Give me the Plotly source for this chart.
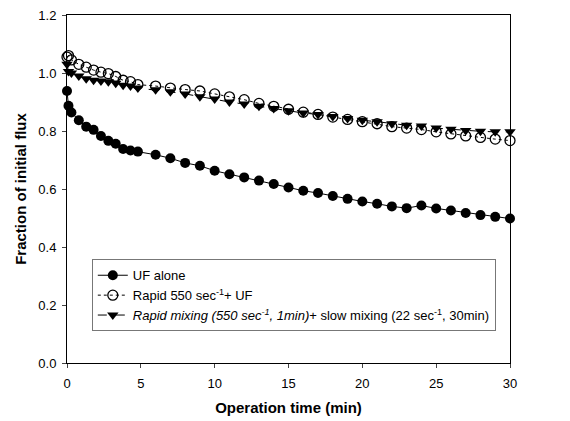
import plotly.graph_objects as go

time = [0, 0.1, 0.3, 0.8, 1.3, 1.8, 2.3, 2.8, 3.3, 3.8, 4.3, 4.8,
        6, 7, 8, 9, 10, 11, 12, 13, 14, 15, 16, 17, 18, 19, 20,
        21, 22, 23, 24, 25, 26, 27, 28, 29, 30]

uf_alone = [0.938, 0.887, 0.864, 0.837, 0.815, 0.804, 0.783, 0.766, 0.756, 0.738, 0.733, 0.729,
            0.718, 0.706, 0.690, 0.680, 0.663, 0.651, 0.640, 0.629, 0.617, 0.605, 0.594, 0.586,
            0.576, 0.566, 0.557, 0.549, 0.540, 0.534, 0.543, 0.533, 0.526, 0.517, 0.510, 0.504, 0.498]

rapid_uf = [1.055, 1.060, 1.045, 1.030, 1.020, 1.010, 1.003, 0.998, 0.988, 0.975, 0.970, 0.960,
            0.955, 0.948, 0.943, 0.938, 0.928, 0.918, 0.908, 0.895, 0.885, 0.875, 0.865, 0.857,
            0.848, 0.840, 0.832, 0.825, 0.815, 0.810, 0.805, 0.797, 0.790, 0.783, 0.778, 0.772, 0.767]

rapid_slow = [1.030, 1.005, 1.000, 0.990, 0.980, 0.975, 0.972, 0.970, 0.965, 0.958, 0.955, 0.948,
              0.942, 0.935, 0.928, 0.918, 0.910, 0.900, 0.893, 0.885, 0.878, 0.870, 0.862, 0.857,
              0.850, 0.843, 0.837, 0.832, 0.825, 0.820, 0.817, 0.810, 0.806, 0.802, 0.799, 0.797, 0.797]

names = ["UF alone",
         "Rapid 550 sec<sup>-1</sup>+ UF",
         "<i>Rapid mixing (550 sec<sup>-1</sup>, 1min)</i>+ slow mixing (22 sec<sup>-1</sup>, 30min)"]

x_ticks = [0, 5, 10, 15, 20, 25, 30]
y_ticks = [0.0, 0.2, 0.4, 0.6, 0.8, 1.0, 1.2]

fig = go.Figure()
fig.add_trace(go.Scatter(x=time, y=uf_alone, name=names[0], mode="lines+markers",
                         line=dict(color="black", width=1),
                         marker=dict(symbol="circle", size=10, color="black"),
                         cliponaxis=False))
fig.add_trace(go.Scatter(x=time, y=rapid_uf, name=names[1], mode="lines+markers",
                         line=dict(color="black", width=1, dash="dot"),
                         marker=dict(symbol="circle-open", size=10, color="black",
                                     line=dict(width=1.3, color="black")),
                         cliponaxis=False))
fig.add_trace(go.Scatter(x=time, y=rapid_slow, name=names[2], mode="lines+markers",
                         line=dict(color="black", width=1, dash="dash"),
                         marker=dict(symbol="triangle-down", size=10, color="black"),
                         cliponaxis=False))

fig.update_layout(
    width=570, height=421,
    margin=dict(l=67, r=60, t=15, b=58),
    paper_bgcolor="white", plot_bgcolor="white",
    font=dict(family="Liberation Sans, Arial, sans-serif", size=13, color="black"),
    showlegend=True,
    legend=dict(x=0.056, y=0.298, xanchor="left", yanchor="top",
                bordercolor="#777777", borderwidth=1, bgcolor="white",
                font=dict(size=13), tracegroupgap=0),
    xaxis=dict(range=[0, 30], tickvals=x_ticks, ticks="outside", ticklen=4,
               ticklabelstandoff=4, automargin=False,
               showline=True, linecolor="black", linewidth=1, mirror=True,
               showgrid=False, zeroline=False,
               title=dict(text="<b>Operation time (min)</b>", font=dict(size=15), standoff=12)),
    yaxis=dict(range=[0, 1.2], tickvals=y_ticks, tickformat=".1f", ticks="outside", ticklen=4,
               ticklabelstandoff=3, automargin=False,
               showline=True, linecolor="black", linewidth=1, mirror=True,
               showgrid=False, zeroline=False,
               title=dict(text="<b>Fraction of initial flux</b>", font=dict(size=15), standoff=8)),
)

fig.write_html("out.html")
